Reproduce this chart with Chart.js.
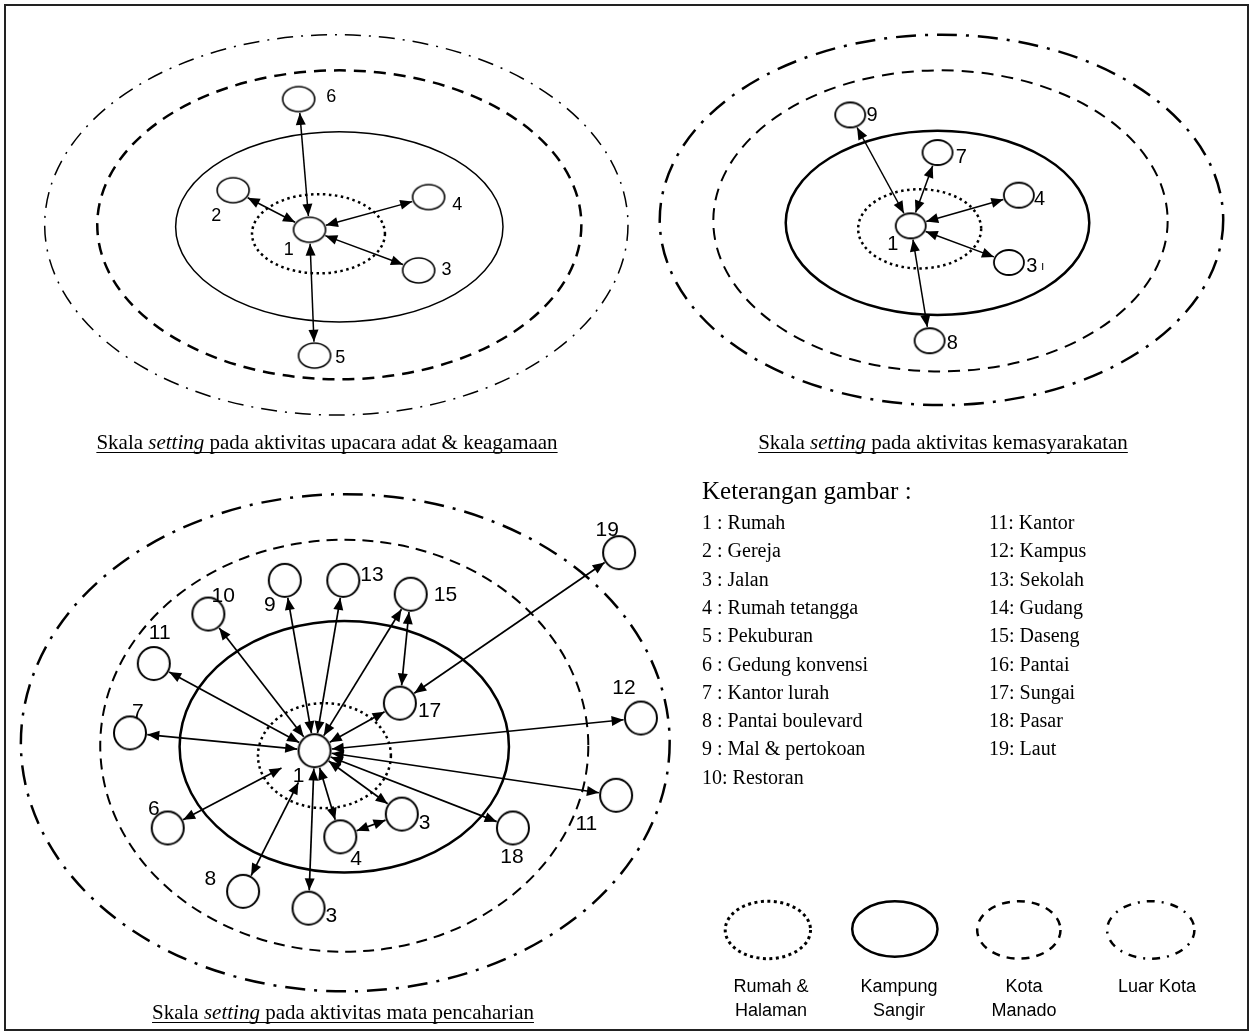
<!DOCTYPE html>
<html>
<head>
<meta charset="utf-8">
<script src="https://cdn.jsdelivr.net/npm/chart.js@4"></script>
<style>
  html, body { margin: 0; padding: 0; background: #fff; }
  #wrap { width: 1254px; height: 1032px; }
</style>
</head>
<body>
<div id="wrap"><canvas id="diagram" width="1254" height="1032"></canvas></div>
<script>
// Datos (coordenadas del esquema, 1 unidad = 1 px)
const ringKinds = ['dotted', 'solid', 'dashed', 'dashdot'];

// Panel 1: upacara adat & keagamaan
const p1Nodes = ['1', '6', '2', '4', '3', '5'];
const p1X = [307, 296, 230, 427, 417, 312];
const p1Y = [227, 95, 187, 194, 268, 354];
const p1LabelX = [286, 329, 213, 456, 445, 338];
const p1LabelY = [246, 91, 212, 200, 266, 355];
const p1Links = [[0, 1], [0, 2], [0, 3], [0, 4], [0, 5]];
const p1Rings = [[316, 231, 67, 40], [337, 224, 165, 96], [337, 222, 244, 156], [334, 222, 294, 192]];

// Panel 2: kemasyarakatan
const p2Nodes = ['1', '9', '7', '4', '3', '8'];
const p2X = [913, 852, 940, 1022, 1012, 932];
const p2Y = [223, 111, 149, 192, 260, 339];
const p2LabelX = [895, 874, 964, 1043, 1035, 955];
const p2LabelY = [240, 110, 152, 195, 262, 340];
const p2Links = [[0, 1], [0, 2], [0, 3], [0, 4], [0, 5]];
const p2Rings = [[922, 226, 62, 40], [940, 220, 153, 93], [943, 218, 229, 152], [944, 217, 284, 187]];

// Panel 3: mata pencaharian
const p3Nodes = ['1', '19', '13', '9', '15', '10', '11', '17', '12', '7', '11', '6', '3', '4', '18', '8', '3'];
const p3X = [312, 619, 341, 282, 409, 205, 150, 398, 641, 126, 616, 164, 400, 338, 512, 240, 306];
const p3Y = [753, 553, 581, 581, 595, 615, 665, 705, 720, 735, 798, 831, 817, 840, 831, 895, 912];
const p3LabelX = [296, 607, 370, 267, 444, 220, 156, 428, 624, 134, 586, 150, 423, 354, 511, 207, 329];
const p3LabelY = [777, 529, 574, 604, 594, 595, 633, 711, 688, 712, 825, 810, 824, 861, 859, 881, 918];
const p3Links = [[0, 2], [0, 3], [0, 4], [0, 5], [0, 6], [0, 7], [0, 8], [0, 9], [0, 10], [0, 11],
                 [0, 12], [0, 13], [0, 14], [0, 15], [0, 16], [4, 7], [1, 7], [13, 12]];
// flechas que se quedan cortas antes del nodo 1 (6 y 8 terminan junto a la etiqueta "1")
const p3LinkShort = [0, 0, 0, 0, 0, 0, 0, 0, 0, 20, 0, 0, 0, 18, 0, 0, 0, 0];
const p3Rings = [[322, 758, 67, 53], [342, 749, 166, 127], [342, 748, 246, 208], [343, 745, 327, 251]];

const captionTails = [
    'pada aktivitas upacara adat & keagamaan',
    'pada aktivitas kemasyarakatan',
    'pada aktivitas mata pencaharian'
];

const legendTitle = 'Keterangan gambar :';
const legendLeft = ['1 : Rumah', '2 : Gereja', '3 : Jalan', '4 : Rumah tetangga', '5 : Pekuburan',
                    '6 : Gedung konvensi', '7 : Kantor lurah', '8 : Pantai boulevard', '9 : Mal & pertokoan', '10: Restoran'];
const legendRight = ['11: Kantor', '12: Kampus', '13: Sekolah', '14: Gudang', '15: Daseng',
                     '16: Pantai', '17: Sungai', '18: Pasar', '19: Laut'];

const keyNames = [['Rumah &', 'Halaman'], ['Kampung', 'Sangir'], ['Kota', 'Manado'], ['Luar Kota']];
const keyRings = [[769, 934, 43, 29], [897, 933, 43, 28], [1022, 934, 42, 29], [1155, 934, 44, 29]];

// Estilos (fuera de los datos)
const SERIF = '"Liberation Serif", "Times New Roman", serif';
const SANS = '"Liberation Sans", Arial, sans-serif';

const panels = [
    {
        nodes: p1Nodes, x: p1X, y: p1Y, lx: p1LabelX, ly: p1LabelY, links: p1Links, rings: p1Rings,
        rx: 16, ry: 12.5, nodeLine: 1.6, font: 18, arrowWidth: 1.5,
        ringStyle: {
            dotted: { width: 2.5, dash: [2.5, 3.5] },
            solid: { width: 1.5, dash: [] },
            dashed: { width: 2.5, dash: [12, 8] },
            dashdot: { width: 1.5, dash: [16, 8, 2, 8] }
        },
        caption: { x: 327, y: 442 }
    },
    {
        nodes: p2Nodes, x: p2X, y: p2Y, lx: p2LabelX, ly: p2LabelY, links: p2Links, rings: p2Rings,
        rx: 15, ry: 12.5, nodeLine: 1.8, font: 20, arrowWidth: 1.5,
        ringStyle: {
            dotted: { width: 2.5, dash: [2.5, 3.5] },
            solid: { width: 2.5, dash: [] },
            dashed: { width: 2, dash: [12, 8] },
            dashdot: { width: 2.5, dash: [20, 9, 3, 9] }
        },
        caption: { x: 943, y: 442 }
    },
    {
        nodes: p3Nodes, x: p3X, y: p3Y, lx: p3LabelX, ly: p3LabelY, links: p3Links, rings: p3Rings,
        short: p3LinkShort,
        rx: 16, ry: 16.5, nodeLine: 2, font: 21, arrowWidth: 1.7,
        ringStyle: {
            dotted: { width: 2.5, dash: [2.5, 3.5] },
            solid: { width: 2.5, dash: [] },
            dashed: { width: 2, dash: [11, 7] },
            dashdot: { width: 2.5, dash: [20, 9, 3, 9] }
        },
        caption: { x: 343, y: 1012 }
    }
];

const keyStyle = {
    dotted: { width: 3, dash: [3, 3.5] },
    solid: { width: 2.5, dash: [] },
    dashed: { width: 2.5, dash: [8, 7] },
    dashdot: { width: 2.5, dash: [8, 7, 2, 7] }
};

function makeNodeImage(rx, ry, lw) {
    const c = document.createElement('canvas');
    c.width = Math.ceil(rx * 2 + 6);
    c.height = Math.ceil(ry * 2 + 6);
    const g = c.getContext('2d');
    g.beginPath();
    g.ellipse(c.width / 2, c.height / 2, rx, ry, 0, 0, Math.PI * 2);
    g.fillStyle = '#fff';
    g.fill();
    g.lineWidth = lw;
    g.strokeStyle = '#000';
    g.stroke();
    return c;
}

// distancia del centro al borde de la elipse en la direccion (ux, uy)
function edge(ux, uy, rx, ry) {
    return 1 / Math.sqrt((ux / rx) * (ux / rx) + (uy / ry) * (uy / ry));
}

function buildDatasets() {
    const datasets = [];
    panels.forEach(p => {
        datasets.push({
            label: 'nodes',
            data: p.x.map((v, i) => ({ x: v, y: p.y[i] })),
            pointStyle: makeNodeImage(p.rx, p.ry, p.nodeLine),
            pointRadius: 1,
            showLine: false,
            order: 0
        });
    });
    panels.forEach(p => {
        p.links.forEach(([a, b], k) => {
            const dx = p.x[b] - p.x[a], dy = p.y[b] - p.y[a];
            const len = Math.hypot(dx, dy);
            const ux = dx / len, uy = dy / len;
            const t = edge(ux, uy, p.rx, p.ry) + 1.5;
            const ta = t + (p.short ? p.short[k] : 0);
            datasets.push({
                label: 'arrow',
                arrow: true,
                data: [
                    { x: p.x[a] + ux * ta, y: p.y[a] + uy * ta },
                    { x: p.x[b] - ux * t, y: p.y[b] - uy * t }
                ],
                showLine: true,
                borderColor: '#000',
                borderWidth: p.arrowWidth,
                pointRadius: 0,
                fill: false,
                order: 1
            });
        });
    });
    return datasets;
}

function drawRing(ctx, chart, ring, style) {
    const xs = chart.scales.x, ys = chart.scales.y;
    const [cx, cy, rx, ry] = ring;
    const x = xs.getPixelForValue(cx), y = ys.getPixelForValue(cy);
    const w = Math.abs(xs.getPixelForValue(cx + rx) - x);
    const h = Math.abs(ys.getPixelForValue(cy + ry) - y);
    ctx.save();
    ctx.beginPath();
    ctx.ellipse(x, y, w, h, 0, 0, Math.PI * 2);
    ctx.lineWidth = style.width;
    ctx.setLineDash(style.dash);
    ctx.strokeStyle = '#000';
    ctx.stroke();
    ctx.restore();
}

function drawHead(ctx, fx, fy, tx, ty) {
    const ang = Math.atan2(ty - fy, tx - fx);
    const L = 12, W = 5;
    ctx.beginPath();
    ctx.moveTo(tx, ty);
    ctx.lineTo(tx - L * Math.cos(ang) + W * Math.sin(ang), ty - L * Math.sin(ang) - W * Math.cos(ang));
    ctx.lineTo(tx - L * Math.cos(ang) - W * Math.sin(ang), ty - L * Math.sin(ang) + W * Math.cos(ang));
    ctx.closePath();
    ctx.fill();
}

function drawCaption(ctx, tail, cx, cy) {
    ctx.save();
    ctx.fillStyle = '#000';
    ctx.textAlign = 'left';
    ctx.textBaseline = 'alphabetic';
    const size = 21;
    const reg = size + 'px ' + SERIF;
    const ita = 'italic ' + size + 'px ' + SERIF;
    ctx.font = reg;
    const w1 = ctx.measureText('Skala ').width;
    const w3 = ctx.measureText(' ' + tail).width;
    ctx.font = ita;
    const w2 = ctx.measureText('setting').width;
    const total = w1 + w2 + w3;
    const x = cx - total / 2;
    const base = cy + 7;
    ctx.font = reg;
    ctx.fillText('Skala ', x, base);
    ctx.font = ita;
    ctx.fillText('setting', x + w1, base);
    ctx.font = reg;
    ctx.fillText(' ' + tail, x + w1 + w2, base);
    ctx.beginPath();
    ctx.lineWidth = 1;
    ctx.moveTo(x, base + 3.5);
    ctx.lineTo(x + total, base + 3.5);
    ctx.strokeStyle = '#000';
    ctx.stroke();
    ctx.restore();
}

const diagramPlugin = {
    id: 'diagram',
    beforeDatasetsDraw(chart) {
        const ctx = chart.ctx;
        ctx.save();
        ctx.fillStyle = '#fff';
        ctx.fillRect(0, 0, chart.width, chart.height);
        ctx.lineWidth = 2;
        ctx.strokeStyle = '#222';
        ctx.strokeRect(5, 5, 1243, 1025);
        ctx.restore();
        panels.forEach(p => {
            p.rings.forEach((r, i) => drawRing(ctx, chart, r, p.ringStyle[ringKinds[i]]));
        });
        keyRings.forEach((r, i) => drawRing(ctx, chart, r, keyStyle[ringKinds[i]]));
    },
    afterDatasetsDraw(chart) {
        const ctx = chart.ctx;
        const xs = chart.scales.x, ys = chart.scales.y;
        ctx.save();
        ctx.fillStyle = '#000';
        chart.data.datasets.forEach(ds => {
            if (!ds.arrow) return;
            const a = ds.data[0], b = ds.data[1];
            const ax = xs.getPixelForValue(a.x), ay = ys.getPixelForValue(a.y);
            const bx = xs.getPixelForValue(b.x), by = ys.getPixelForValue(b.y);
            drawHead(ctx, ax, ay, bx, by);
            drawHead(ctx, bx, by, ax, ay);
        });

        // etiquetas de los nodos
        ctx.textAlign = 'center';
        ctx.textBaseline = 'alphabetic';
        panels.forEach(p => {
            ctx.font = p.font + 'px ' + SANS;
            p.nodes.forEach((n, i) => {
                ctx.fillText(n, xs.getPixelForValue(p.lx[i]), ys.getPixelForValue(p.ly[i]) + p.font * 0.36);
            });
        });
        // pequena marca junto al "3" del panel 2
        ctx.font = '12px ' + SANS;
        ctx.fillText('ı', xs.getPixelForValue(1046), ys.getPixelForValue(268));

        panels.forEach((p, i) => drawCaption(ctx, captionTails[i], p.caption.x, p.caption.y));

        // keterangan
        ctx.textAlign = 'left';
        ctx.font = '25px ' + SERIF;
        ctx.fillText(legendTitle, 702, 499);
        ctx.font = '20px ' + SERIF;
        legendLeft.forEach((t, i) => ctx.fillText(t, 702, 529 + i * 28.3));
        legendRight.forEach((t, i) => ctx.fillText(t, 989, 529 + i * 28.3));

        // nombres de los anillos
        ctx.textAlign = 'center';
        ctx.font = '18px ' + SANS;
        keyNames.forEach((lines, i) => {
            lines.forEach((t, j) => ctx.fillText(t, keyRings[i][0] + 2, 992 + j * 24));
        });
        ctx.restore();
    }
};

new Chart(document.getElementById('diagram').getContext('2d'), {
    type: 'scatter',
    data: { datasets: buildDatasets() },
    options: {
        responsive: false,
        animation: false,
        devicePixelRatio: 1,
        events: [],
        layout: { padding: 0 },
        scales: {
            x: { type: 'linear', min: 0, max: 1254, display: false },
            y: { type: 'linear', min: 0, max: 1032, reverse: true, display: false }
        },
        plugins: {
            legend: { display: false },
            tooltip: { enabled: false }
        }
    },
    plugins: [diagramPlugin]
});
</script>
</body>
</html>
